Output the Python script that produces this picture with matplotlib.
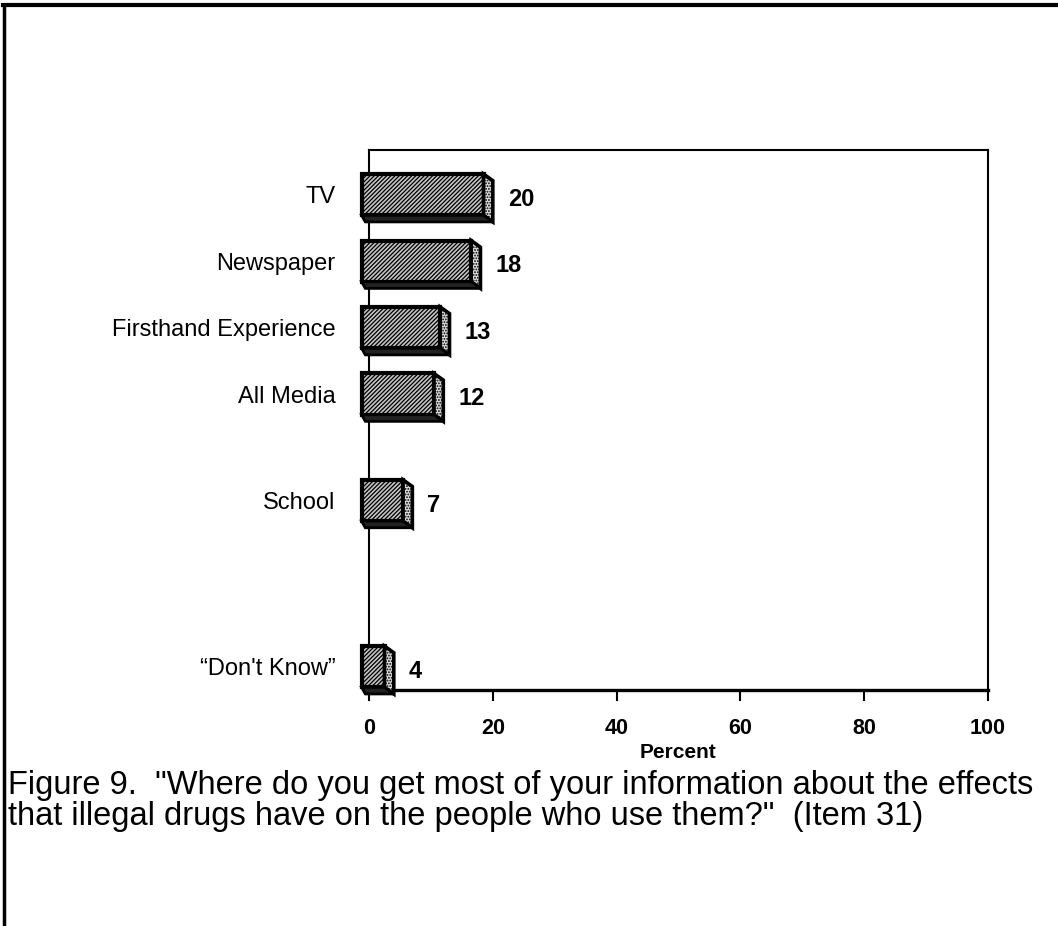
import matplotlib

matplotlib.use("Agg")
import matplotlib.pyplot as plt
from matplotlib.patches import Polygon
from matplotlib.lines import Line2D

plt.rcParams["font.family"] = ["Liberation Sans", "DejaVu Sans"]
plt.rcParams["hatch.linewidth"] = 0.9

sources = ["TV", "Newspaper", "Firsthand Experience", "All Media", "School",
           "\u201cDon't Know\u201d"]
percent = [20, 18, 13, 12, 7, 4]
# row slots: "Don't Know" sits apart from the named sources
slots = [0, 1, 2, 3, 4.6, 7.1]

fig = plt.figure(figsize=(10.58, 9.26), dpi=100)
ax = fig.add_axes([0.3488, 0.2549, 0.5850, 0.5830])

half = 0.31      # half height of a bar face
depth = 0.10     # vertical depth of the 3-D side
side = 1.5       # horizontal depth of the 3-D side (percent units)
x0 = -1.2
for y, v in zip(slots, percent):
    yt, yb = y - half, y + half
    xe = v - side
    # hatched front face
    ax.add_patch(Polygon([(x0, yt), (xe, yt), (xe, yb), (x0, yb)],
                         closed=True, facecolor="#c4c4c4", edgecolor="black",
                         hatch="////////", lw=3.0, zorder=3, clip_on=False))
    # right side, chamfered at the top
    ax.add_patch(Polygon([(xe, yt), (v, yt + depth), (v, yb + depth),
                          (xe, yb)], closed=True, facecolor="#dcdcdc",
                         edgecolor="black", hatch="......", lw=2.6, zorder=3,
                         clip_on=False))
    # bottom edge
    ax.add_patch(Polygon([(x0, yb), (xe, yb), (v, yb + depth),
                          (x0 + 0.6, yb + depth)], closed=True,
                         facecolor="#222222", edgecolor="black", lw=2.0,
                         zorder=3, clip_on=False))
    ax.text(v + 2.4, y + 0.07, str(v), ha="left", va="center", fontsize=17,
            fontweight="bold", zorder=4)

ax.set_xlim(0, 100)
ax.set_ylim(7.45, -0.67)
ax.set_xticks([0, 20, 40, 60, 80, 100])
ax.tick_params(axis="x", direction="out", length=8, width=1.5,
               labelsize=15.5, pad=12)
for lbl in ax.get_xticklabels():
    lbl.set_fontweight("bold")
ax.set_yticks(slots)
ax.set_yticklabels(sources, fontsize=17)
ax.tick_params(axis="y", length=0, pad=24)
for s in ax.spines.values():
    s.set_linewidth(1.5)
ax.spines["bottom"].set_linewidth(2.4)
ax.set_xlabel("Percent", fontsize=15, fontweight="bold", labelpad=3)

fig.text(0.008, 0.168,
         "Figure 9.  \"Where do you get most of your information about the effects\n"
         "that illegal drugs have on the people who use them?\"  (Item 31)",
         fontsize=23.5, ha="left", va="top", linespacing=1.0)

# page frame: top and left rules
fig.add_artist(Line2D([0.003, 1.0], [0.995, 0.995], color="black", lw=3,
                      transform=fig.transFigure))
fig.add_artist(Line2D([0.004, 0.004], [0.0, 0.995], color="black", lw=2.5,
                      transform=fig.transFigure))

fig.savefig("out.png", dpi=100)
